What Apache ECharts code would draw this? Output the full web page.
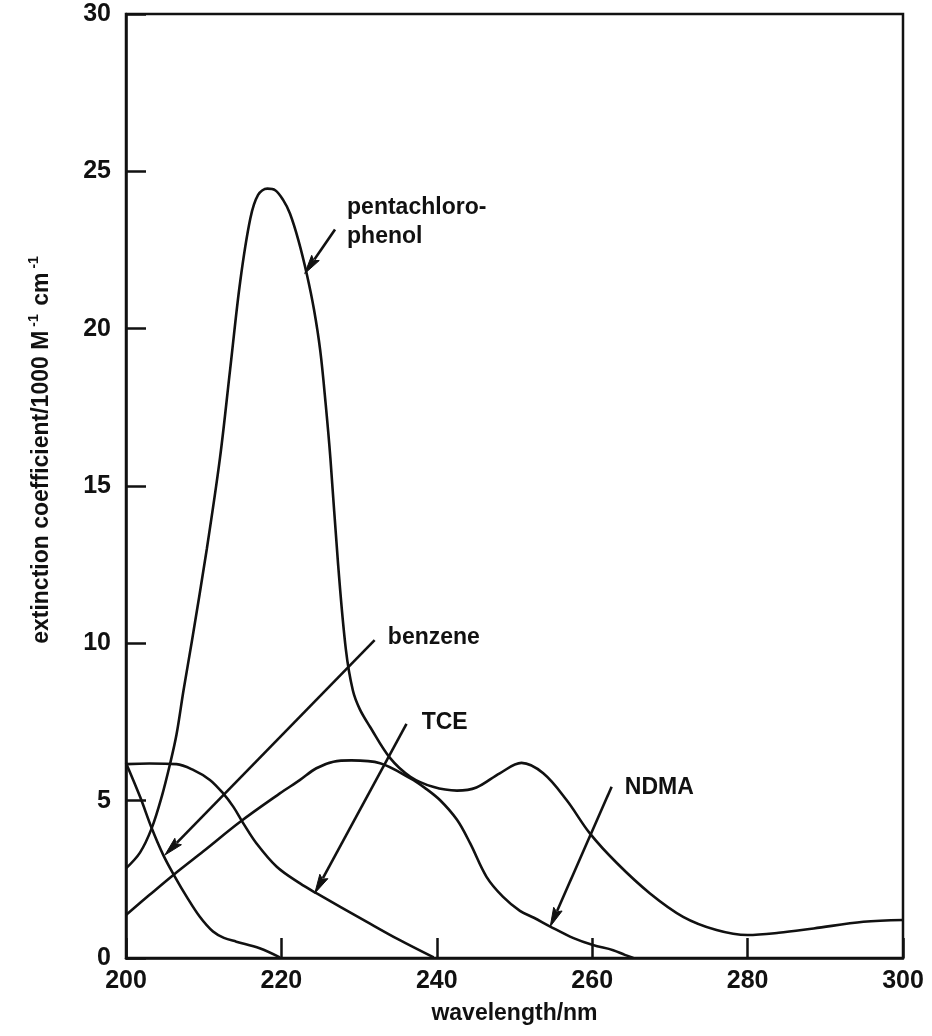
<!DOCTYPE html>
<html><head><meta charset="utf-8">
<script src="https://cdn.jsdelivr.net/npm/echarts@6/dist/echarts.min.js"></script>
<style>html,body{margin:0;padding:0;background:#fff}#c{width:932px;height:1036px}</style>
</head><body><div id="c"></div>
<script>
// wavelength (nm), extinction coefficient (1000 M^-1 cm^-1)
const pentachlorophenol = [[200,2.85],[201.8,3.35],[203.3,4.12],[204.6,5.13],[205.7,6.2],[206.5,7.1],[207.4,8.5],[208.5,10.1],[210.4,13.0],[212.1,15.9],[213.4,18.7],[214.7,21.5],[216.0,23.5],[217.0,24.25],[218.2,24.45],[219.2,24.4],[220.2,24.1],[221.1,23.66],[222.2,22.8],[223.3,21.7],[224.2,20.6],[225.0,19.3],[225.7,17.6],[226.3,15.9],[227.3,12.5],[228.3,9.8],[229.2,8.5],[230.1,7.9],[231.4,7.35],[234.0,6.35],[236.6,5.76],[239.5,5.44],[242.6,5.32],[245.1,5.42],[248.1,5.87],[250.9,6.2],[253.7,5.87],[256.7,5.02],[259.7,3.96],[263.2,3.01],[267.4,2.06],[271.7,1.31],[276.0,0.89],[280.0,0.73],[284.0,0.8],[288.5,0.94],[294.9,1.15],[300,1.21]];
const benzene = [[200,6.2],[201.8,5.13],[203.3,4.13],[204.8,3.27],[206.3,2.58],[207.8,1.95],[209.5,1.31],[211.2,0.84],[212.6,0.64],[214.2,0.52],[217.2,0.31],[219.8,0.02]];
const tce = [[200,6.16],[203,6.18],[206.5,6.16],[208.7,5.97],[210.8,5.66],[212.5,5.23],[213.8,4.81],[215.1,4.28],[216.8,3.64],[219.4,2.9],[222.4,2.37],[224.5,2.06],[231,1.15],[235,0.6],[239.6,0.02]];
const ndma = [[200,1.37],[203,2.0],[206.1,2.64],[210,3.4],[214.7,4.33],[219.8,5.23],[222.4,5.66],[224.5,6.03],[226.7,6.24],[229,6.28],[232.7,6.19],[236.6,5.71],[238.5,5.4],[240.4,5.02],[242.6,4.39],[244.3,3.64],[246.4,2.58],[248.5,1.95],[250.7,1.5],[252.5,1.28],[254.6,1.0],[257.6,0.63],[260.1,0.41],[262.7,0.25],[264.2,0.1],[265.3,0]];

// annotation arrows: [from, to] in data coordinates
const pcpArrow = [[226.9,23.15],[223.0,21.75]];
const benzeneArrow = [[232.0,10.1],[205.0,3.27]];
const tceArrow = [[236.1,7.44],[224.3,2.06]];
const ndmaArrow = [[262.5,5.44],[254.6,1.0]];

// annotation labels: [x, y, text]
const labelPoints = [[228.45,23.39,'pentachloro-\nphenol'],[233.7,10.17,'benzene'],[238.05,7.47,'TCE'],[264.2,5.40,'NDMA']];

const xName = 'wavelength/nm';
const yNameMain = 'extinction coefficient/1000 M';
const yNameMid = ' cm';
const yNameSup = '-1';

const FONT = '"Liberation Sans", Arial, Helvetica, sans-serif';
const INK = '#111';

function curve(name, data){
  return {
    name, type: 'line', data, symbol: 'none', smooth: 0.35,
    lineStyle: {color: INK, width: 2.6},
    itemStyle: {color: INK},
    silent: true, animation: false
  };
}

const yNameGraphic = {
  type: 'text', x: 40, y: 449, rotation: Math.PI / 2, silent: true,
  style: {
    text: '{a|' + yNameMain + '}{s|' + yNameSup + '}{a|' + yNameMid + '}{s|' + yNameSup + '}',
    align: 'center', verticalAlign: 'middle',
    rich: {
      a: {fontFamily: FONT, fontSize: 23, fontWeight: 'bold', fill: INK, color: INK, lineHeight: 26, verticalAlign: 'bottom'},
      s: {fontFamily: FONT, fontSize: 14, fontWeight: 'bold', fill: INK, color: INK, lineHeight: 14, padding: [0, 2, 20, 4], verticalAlign: 'top'}
    }
  }
};

const chart = echarts.init(document.getElementById('c'), null, {renderer: 'canvas'});
chart.setOption({
  backgroundColor: '#fff',
  animation: false,
  grid: {left: 126, right: 29, top: 14, bottom: 78, show: true, borderColor: INK, borderWidth: 2.5, backgroundColor: 'transparent'},
  xAxis: {
    type: 'value', min: 200, max: 300, interval: 20,
    name: xName, nameLocation: 'middle', nameGap: 44,
    nameTextStyle: {fontFamily: FONT, fontSize: 23, fontWeight: 'bold', color: INK},
    axisLine: {show: true, lineStyle: {color: INK, width: 2.5}},
    axisTick: {show: true, inside: true, length: 20, lineStyle: {color: INK, width: 2.5}},
    axisLabel: {fontFamily: FONT, fontSize: 25, fontWeight: 'bold', color: INK, margin: 11},
    splitLine: {show: false}
  },
  yAxis: {
    type: 'value', min: 0, max: 30, interval: 5,
    axisLine: {show: true, lineStyle: {color: INK, width: 2.5}},
    axisTick: {show: true, inside: true, length: 20, lineStyle: {color: INK, width: 2.5}},
    axisLabel: {fontFamily: FONT, fontSize: 25, fontWeight: 'bold', color: INK, margin: 15},
    splitLine: {show: false}
  },
  graphic: [yNameGraphic],
  series: [
    curve('pentachlorophenol', pentachlorophenol),
    curve('benzene', benzene),
    curve('TCE', tce),
    curve('NDMA', ndma),
    {
      type: 'scatter', data: labelPoints, symbolSize: 0, silent: true, animation: false,
      itemStyle: {opacity: 1, color: INK},
      label: {show: true, position: 'right', distance: 0, formatter: p => p.data[2], opacity: 1,
        fontFamily: FONT, fontSize: 23, fontWeight: 'bold', color: INK, lineHeight: 29, align: 'left'}
    }
  ]
});

// arrows placed through the chart's own coordinate conversion
function arrowGraphics(a){
  const p0 = chart.convertToPixel({gridIndex: 0}, a[0]);
  const p1 = chart.convertToPixel({gridIndex: 0}, a[1]);
  const dx = p1[0] - p0[0], dy = p1[1] - p0[1];
  const L = Math.hypot(dx, dy), ux = dx / L, uy = dy / L;
  const headLen = 19, headHalf = 4.6;
  const bx = p1[0] - ux * headLen, by = p1[1] - uy * headLen;
  const nx = -uy, ny = ux;
  return [
    {type: 'line', silent: true, shape: {x1: p0[0], y1: p0[1], x2: bx + ux * 2, y2: by + uy * 2},
      style: {stroke: INK, lineWidth: 2.6}},
    {type: 'polygon', silent: true,
      shape: {points: [[p1[0], p1[1]], [bx + nx * headHalf, by + ny * headHalf], [bx + ux * 3, by + uy * 3], [bx - nx * headHalf, by - ny * headHalf]]},
      style: {fill: INK, stroke: INK, lineWidth: 1}}
  ];
}
const arrowEls = [pcpArrow, benzeneArrow, tceArrow, ndmaArrow].flatMap(arrowGraphics);
chart.setOption({graphic: [yNameGraphic].concat(arrowEls)}, {replaceMerge: ['graphic']});
</script>
</body></html>
